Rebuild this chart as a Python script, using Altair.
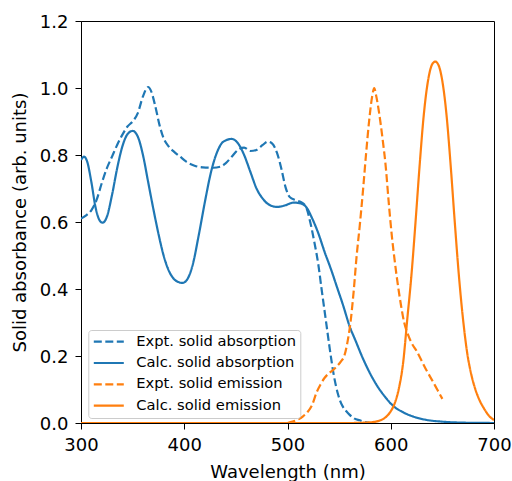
import altair as alt
import pandas as pd

# Series data (wavelength nm, absorbance)
expt_abs_x = [300, 305, 310, 315, 320, 325, 330, 335, 340, 345, 350, 355, 360, 365, 368, 372, 376, 380, 385, 390, 396, 402, 410, 418, 428, 435, 440, 446, 452, 458, 464, 470, 476, 481, 485, 490, 494, 498, 502, 508, 514, 518, 522, 526, 530, 533, 537, 541, 545, 549, 553, 557, 560, 565, 570, 576, 580]
expt_abs_y = [0.61, 0.62, 0.635, 0.665, 0.715, 0.76, 0.795, 0.83, 0.86, 0.885, 0.9, 0.925, 0.975, 1.003, 0.99, 0.945, 0.89, 0.85, 0.825, 0.81, 0.795, 0.78, 0.768, 0.763, 0.762, 0.765, 0.775, 0.795, 0.815, 0.822, 0.812, 0.815, 0.83, 0.84, 0.835, 0.805, 0.76, 0.705, 0.675, 0.665, 0.658, 0.645, 0.60, 0.54, 0.47, 0.40, 0.31, 0.22, 0.14, 0.085, 0.052, 0.035, 0.025, 0.013, 0.008, 0.002, 0.0]

calc_abs_x = [300, 303, 306, 310, 314, 318, 321, 325, 330, 335, 340, 345, 350, 355, 360, 365, 370, 375, 380, 385, 390, 395, 398, 402, 408, 414, 420, 426, 432, 438, 446, 452, 458, 464, 470, 476, 482, 490, 498, 506, 512, 518, 524, 530, 536, 542, 548, 554, 560, 566, 572, 578, 586, 594, 602, 612, 622, 635, 650, 670, 700]
calc_abs_y = [0.785, 0.795, 0.78, 0.72, 0.645, 0.605, 0.598, 0.615, 0.68, 0.76, 0.825, 0.862, 0.872, 0.855, 0.80, 0.72, 0.64, 0.565, 0.50, 0.455, 0.43, 0.42, 0.418, 0.425, 0.47, 0.56, 0.66, 0.75, 0.81, 0.84, 0.848, 0.835, 0.80, 0.75, 0.70, 0.67, 0.652, 0.645, 0.65, 0.658, 0.656, 0.645, 0.61, 0.565, 0.51, 0.46, 0.405, 0.35, 0.29, 0.245, 0.2, 0.16, 0.115, 0.08, 0.052, 0.032, 0.019, 0.009, 0.004, 0.001, 0.0]

expt_em_x = [500, 505, 510, 515, 520, 524, 528, 532, 536, 540, 544, 548, 552, 555, 558, 561, 564, 567, 570, 573, 576, 579, 582, 584, 586, 589, 592, 595, 598, 601, 604, 607, 610, 613, 616, 620, 625, 630, 635, 640, 645, 650]
expt_em_y = [0.0, 0.004, 0.01, 0.02, 0.035, 0.055, 0.09, 0.115, 0.135, 0.148, 0.158, 0.17, 0.185, 0.2, 0.24, 0.3, 0.39, 0.5, 0.59, 0.69, 0.8, 0.9, 0.975, 1.0, 0.975, 0.92, 0.85, 0.77, 0.66, 0.56, 0.48, 0.41, 0.35, 0.3, 0.27, 0.24, 0.215, 0.185, 0.155, 0.128, 0.1, 0.072]

calc_em_x = [300, 400, 500, 560, 580, 590, 596, 600, 604, 608, 612, 616, 620, 624, 628, 632, 636, 640, 643, 646, 650, 654, 658, 662, 666, 670, 674, 678, 682, 686, 690, 695, 700]
calc_em_y = [0.0, 0.0, 0.0, 0.0, 0.002, 0.008, 0.02, 0.035, 0.06, 0.105, 0.18, 0.31, 0.44, 0.6, 0.77, 0.92, 1.02, 1.07, 1.079, 1.07, 1.02, 0.92, 0.77, 0.6, 0.44, 0.31, 0.21, 0.145, 0.1, 0.068, 0.045, 0.022, 0.009]

names = ["Expt. solid absorption", "Calc. solid absorption",
         "Expt. solid emission", "Calc. solid emission"]
colors = ["#1f77b4", "#1f77b4", "#ff7f0e", "#ff7f0e"]
dashes = [[8, 3.5], [1, 0], [8, 3.5], [1, 0]]

frames = []
for i, (xs, ys) in enumerate([(expt_abs_x, expt_abs_y), (calc_abs_x, calc_abs_y),
                              (expt_em_x, expt_em_y), (calc_em_x, calc_em_y)]):
    frames.append(pd.DataFrame({"wl": xs, "val": ys, "series": names[i], "order": i}))
df = pd.concat(frames, ignore_index=True)

FONT = "DejaVu Sans"

chart = alt.Chart(df).mark_line(interpolate="monotone", strokeWidth=2.2, clip=True).encode(
    x=alt.X("wl:Q", scale=alt.Scale(domain=[300, 700], nice=False),
            axis=alt.Axis(title="Wavelength (nm)", values=[300, 400, 500, 600, 700], format="d")),
    y=alt.Y("val:Q", scale=alt.Scale(domain=[0, 1.2], nice=False),
            axis=alt.Axis(title="Solid absorbance (arb. units)",
                          values=[0, 0.2, 0.4, 0.6, 0.8, 1.0, 1.2], format=".1f")),
    color=alt.Color("series:N", scale=alt.Scale(domain=names, range=colors),
                    legend=alt.Legend(title=None)),
    strokeDash=alt.StrokeDash("series:N", scale=alt.Scale(domain=names, range=dashes),
                              legend=alt.Legend(title=None)),
    detail="series:N",
    order="order:Q",
).properties(
    width=413, height=402,
    autosize=alt.AutoSizeParams(type="none"),
    padding={"left": 81, "top": 21, "right": 18, "bottom": 58},
).configure_view(
    stroke="black", strokeWidth=1
).configure_axis(
    grid=False, domainColor="black", tickColor="black", tickSize=6,
    labelColor="black", titleColor="black", labelFont=FONT, titleFont=FONT,
    labelFontSize=18, titleFontSize=18, titleFontWeight="normal",
    labelFlush=False,
).configure_axisX(
    labelPadding=7, titlePadding=9
).configure_axisY(
    labelPadding=7, titlePadding=10, labelOffset=1
).configure_legend(
    orient="none", legendX=7.3, legendY=309,
    fillColor="white", strokeColor="#cccccc", cornerRadius=3, padding=4,
    symbolType="stroke", symbolSize=900, symbolStrokeWidth=2.2,
    labelFont=FONT, labelFontSize=14.7, labelColor="black", labelOffset=11,
    clipHeight=15.4, rowPadding=4.3,
)

chart.save("out.html", embed_options={"renderer": "svg", "actions": False})
